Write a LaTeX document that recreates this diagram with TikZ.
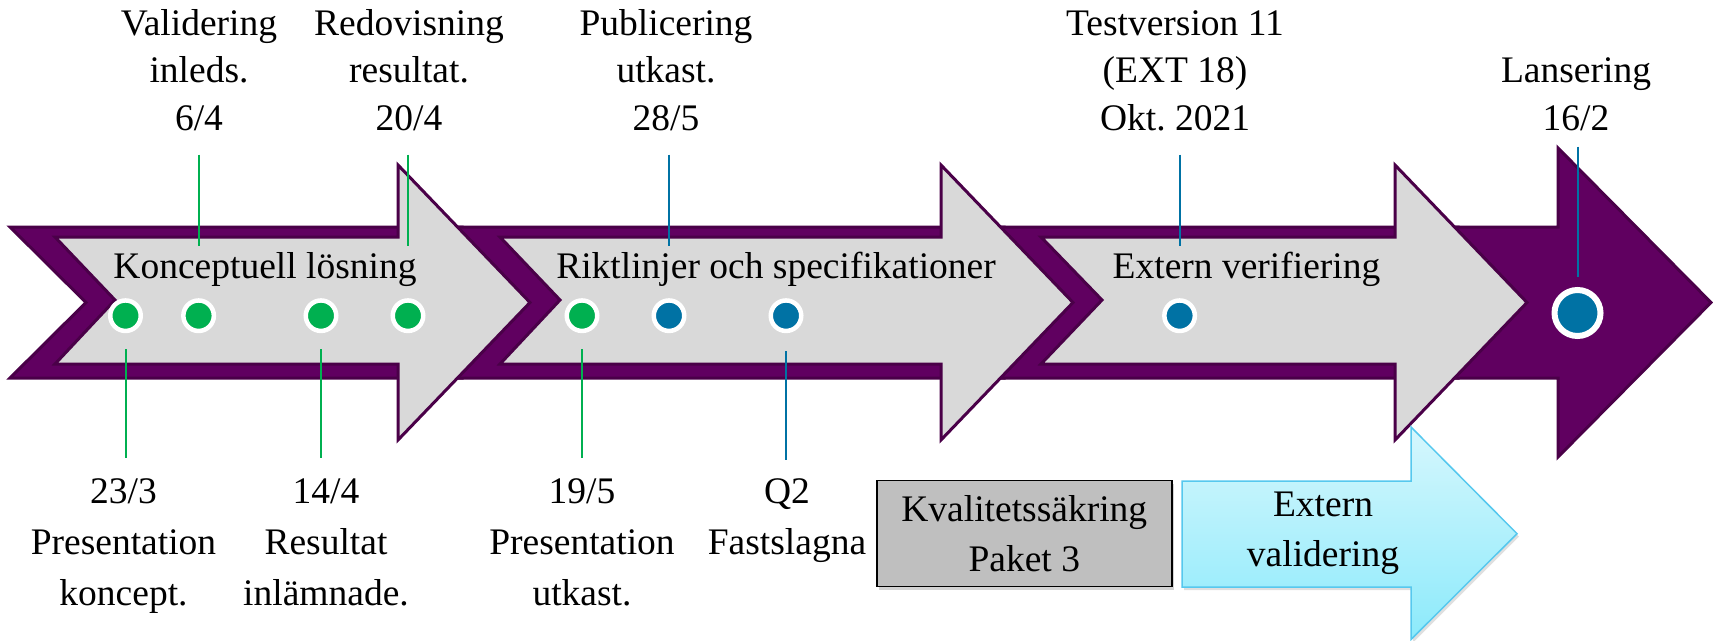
\documentclass[tikz,border=0pt]{standalone}
\usepackage{fontspec}
\setmainfont{Liberation Serif}
\usetikzlibrary{shadows}
\definecolor{pur}{RGB}{96,0,96}
\definecolor{purd}{RGB}{74,0,72}
\definecolor{grayfill}{RGB}{217,217,217}
\definecolor{gr}{RGB}{0,176,80}
\definecolor{bl}{RGB}{0,114,164}
\definecolor{boxgray}{RGB}{191,191,191}
\definecolor{cyt}{RGB}{214,247,253}
\definecolor{cyb}{RGB}{140,234,251}
\definecolor{cyd}{RGB}{86,200,238}
\begin{document}
\begin{tikzpicture}[x=1pt,y=-1pt,
  band/.style={fill=pur, draw=purd, line width=3pt, line join=miter},
  grayarrow/.style={fill=grayfill, draw=purd, line width=3pt, line join=miter},
  stagetext/.style={font=\fontsize{37.5}{47.5}\selectfont, inner sep=0pt, anchor=base},
  lbl/.style={font=\fontsize{37.5}{47.5}\selectfont, align=center, inner sep=0pt, anchor=base},
  lblb/.style={font=\fontsize{37.5}{51}\selectfont, align=center, inner sep=0pt, anchor=base},
  dot/.style={circle, draw=white, line width=4.5pt, fill=#1, minimum size=30.5pt, inner sep=0pt},
  bigdot/.style={circle, draw=white, line width=6pt, fill=#1, minimum size=46pt, inner sep=0pt},
  gline/.style={draw=gr, line width=2pt},
  bline/.style={draw=bl, line width=2pt},
  graybox/.style={rectangle, fill=boxgray, draw=black, line width=1.5pt, minimum width=295pt, minimum height=106pt, align=center, font=\fontsize{37.5}{50}\selectfont, inner sep=0pt, drop shadow={opacity=0.35, shadow xshift=2pt, shadow yshift=-3pt}},
  cyanarrow/.style={top color=cyt, bottom color=cyb, draw=cyd, line width=1.5pt, line join=miter, drop shadow={opacity=0.25, shadow xshift=2pt, shadow yshift=-3pt}},
  boxtext/.style={align=center, font=\fontsize{37.5}{50}\selectfont, inner sep=0pt},
]
\useasboundingbox (0,0) rectangle (1713,640);

% purple bands
\path[band] (10,227) -- (462,227) -- (462,378) -- (10,378) -- (86,302.5) -- cycle;
\path[band] (457,227) -- (1004,227) -- (1004,378) -- (457,378) -- (528,302.5) -- cycle;
\path[band] (1000,227) -- (1458,227) -- (1458,378) -- (1000,378) -- (1072,302.5) -- cycle;
\path[band] (1454,227) -- (1558,227) -- (1558,148) -- (1711,302.5) -- (1558,457) -- (1558,378) -- (1454,378) -- (1526,302.5) -- cycle;

% gray arrows
\path[grayarrow] (55,237) -- (398,237) -- (398,165) -- (530,302.5) -- (398,440) -- (398,364) -- (55,364) -- (115,300) -- cycle;
\path[grayarrow] (500,237) -- (941,237) -- (941,165) -- (1073,302.5) -- (941,440) -- (941,364) -- (500,364) -- (560,300) -- cycle;
\path[grayarrow] (1041,237) -- (1395,237) -- (1395,165) -- (1527,302.5) -- (1395,440) -- (1395,364) -- (1041,364) -- (1102,300) -- cycle;

% stage titles
\node[stagetext] (s1) at (265,278) {Konceptuell lösning};
\node[stagetext] (s2) at (776,278) {Riktlinjer och specifikationer};
\node[stagetext] (s3) at (1246.5,278) {Extern verifiering};

% dots
\node[dot=gr] (d1) at (125.5,315.7) {};
\node[dot=gr] (d2) at (198.6,315.7) {};
\node[dot=gr] (d3) at (321,315.7) {};
\node[dot=gr] (d4) at (408,315.7) {};
\node[dot=gr] (d5) at (582,315.7) {};
\node[dot=bl] (d6) at (669,315.7) {};
\node[dot=bl] (d7) at (786,315.7) {};
\node[dot=bl] (d8) at (1179.6,315.7) {};
\node[bigdot=bl] (d9) at (1577.5,313) {};

% top labels (anchor = baseline of last line)
\node[lbl] (t2) at (199,130) {Validering\\inleds.\\6/4};
\node[lbl] (t4) at (409,130) {Redovisning\\resultat.\\20/4};
\node[lbl] (t6) at (666,130) {Publicering\\utkast.\\28/5};
\node[lbl] (t8) at (1175,130) {Testversion 11\\(EXT 18)\\Okt.\ 2021};
\node[lbl] (t9) at (1576,130) {Lansering\\16/2};

% bottom labels
\node[lblb] (b1) at (123.5,605) {23/3\\Presentation\\koncept.};
\node[lblb] (b3) at (326,605) {14/4\\Resultat\\inlämnade.};
\node[lblb] (b5) at (582,605) {19/5\\Presentation\\utkast.};
\node[lblb] (b7) at (787,554) {Q2\\Fastslagna};

% connectors top
\draw[gline, shorten <=24pt, shorten >=52pt] (d2 |- t2.south) -- (d2.north);
\draw[gline, shorten <=24pt, shorten >=52pt] (d4 |- t4.south) -- (d4.north);
\draw[bline, shorten <=24pt, shorten >=52pt] (d6 |- t6.south) -- (d6.north);
\draw[bline, shorten <=24pt, shorten >=52pt] (d8 |- t8.south) -- (d8.north);
\draw[bline, shorten <=16pt, shorten >=10pt] (d9 |- t9.south) -- (d9.north);

% connectors bottom
\draw[gline, shorten <=16pt, shorten >=20pt] (d1.south) -- (d1 |- b1.north);
\draw[gline, shorten <=16pt, shorten >=20pt] (d3.south) -- (d3 |- b3.north);
\draw[gline, shorten <=16pt, shorten >=20pt] (d5.south) -- (d5 |- b5.north);
\draw[bline, shorten <=18pt, shorten >=18pt] (d7.south) -- (d7 |- b7.north);

% bottom boxes
\node[graybox] (kq) at (1024.3,533.7) {Kvalitetssäkring\\Paket 3};
\path[cyanarrow] (1182,481) -- (1411,481) -- (1411,427) -- (1517,533.7) -- (1411,639.5) -- (1411,587) -- (1182,587) -- cycle;
\node[boxtext] (ev) at (1323,533.7) {Extern\\validering};
\end{tikzpicture}
\end{document}
